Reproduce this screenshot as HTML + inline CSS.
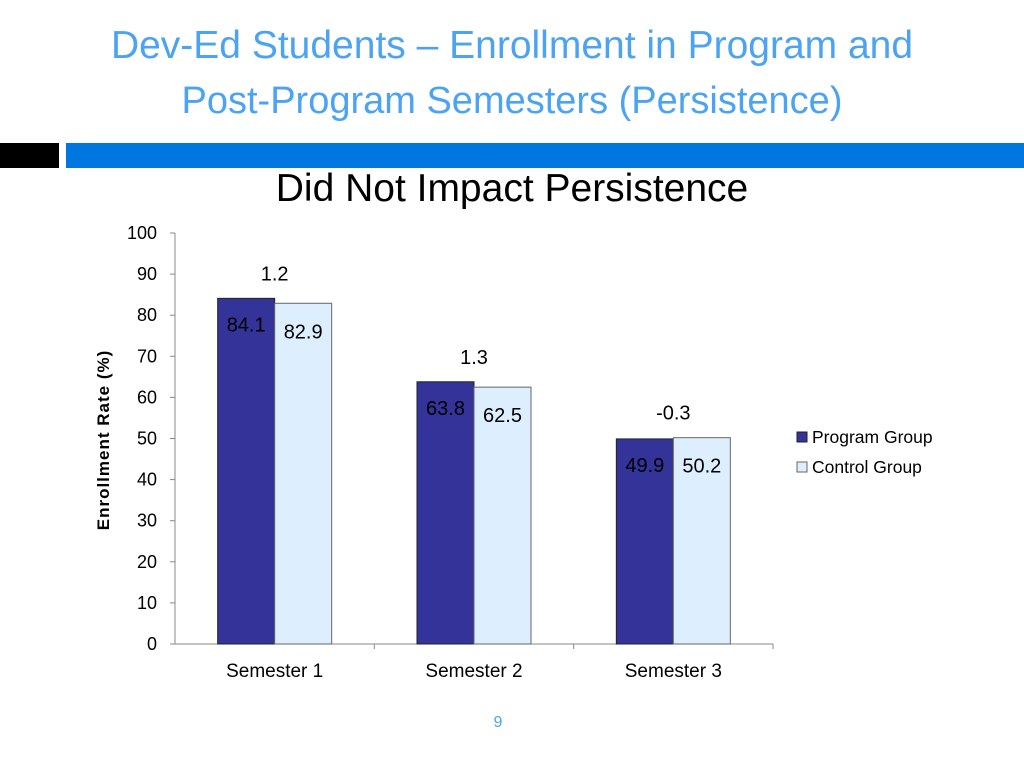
<!DOCTYPE html>
<html><head><meta charset="utf-8"><style>
body{margin:0;width:1024px;height:768px;background:#fff;overflow:hidden;font-family:"Liberation Sans",sans-serif;position:relative}
.t{position:absolute;left:0;width:1024px;text-align:center;color:#4ba3f2;font-size:38px}
</style></head><body>
<div class="t" style="top:24px;font-size:39px">Dev-Ed Students – Enrollment in Program and</div>
<div class="t" style="top:80px">Post-Program Semesters (Persistence)</div>
<div style="position:absolute;left:0;top:143px;width:59px;height:25px;background:#000"></div>
<div style="position:absolute;left:66px;top:143px;width:958px;height:25px;background:#0077e0"></div>
<svg id="c" width="1024" height="768" style="position:absolute;left:0;top:0"></svg>
<script>
const categories=["Semester 1","Semester 2","Semester 3"];
const programVals=[84.1,63.8,49.9];
const controlVals=[82.9,62.5,50.2];
const diffLabels=["1.2","1.3","-0.3"];
const yTicks=[0,10,20,30,40,50,60,70,80,90,100];
const NS="http://www.w3.org/2000/svg",svg=document.getElementById('c');
const x0=175,x1=773,yB=644,yT=233;
const y=v=>yB-(v/100)*(yB-yT);
const cw=(x1-x0)/categories.length,cx=i=>x0+cw*(i+0.5),bw=57;
function el(t,a,txt){const e=document.createElementNS(NS,t);for(const k in a)e.setAttribute(k,a[k]);if(txt!==undefined)e.textContent=txt;svg.appendChild(e);return e;}
let e=el('text',{x:512,y:201,'text-anchor':'middle','font-size':39,fill:'#000'},'Did Not Impact Persistence');

e=el('line',{x1:x0,y1:yT,x2:x0,y2:yB,stroke:'#888'});

e=el('line',{x1:x0,y1:yB,x2:x1,y2:yB,stroke:'#888'});

yTicks.forEach(v=>{
 el('line',{x1:x0-5,y1:y(v),x2:x0,y2:y(v),stroke:'#888'});
 e=el('text',{x:157,y:y(v)+6,'text-anchor':'end','font-size':18,fill:'#000'},v);
 
});
categories.forEach((c,i)=>{
 el('line',{x1:x0+cw*(i+1),y1:yB,x2:x0+cw*(i+1),y2:yB+5,stroke:'#888'});
 e=el('text',{x:cx(i),y:677,'text-anchor':'middle','font-size':19,fill:'#000'},c);
 
 const p=programVals[i],q=controlVals[i];
 e=el('rect',{x:cx(i)-bw,y:y(p),width:bw,height:yB-y(p),fill:'#333399',stroke:'#222'});
 
 e=el('rect',{x:cx(i),y:y(q),width:bw,height:yB-y(q),fill:'#ddeeff',stroke:'#666'});
 
 e=el('text',{x:cx(i)-bw/2,y:y(p)+33,'text-anchor':'middle','font-size':20,fill:'#000'},p.toFixed(1));
 
 e=el('text',{x:cx(i)+bw/2,y:y(q)+35,'text-anchor':'middle','font-size':20,fill:'#000'},q.toFixed(1));
 
 e=el('text',{x:cx(i),y:y(Math.max(p,q))-18,'text-anchor':'middle','font-size':20,fill:'#000'},diffLabels[i]);
 
});
e=el('text',{x:0,y:0,transform:'translate(109,440) rotate(-90)','text-anchor':'middle','font-size':17,'font-weight':'bold','letter-spacing':'1',fill:'#000'},'Enrollment Rate (%)');

e=el('rect',{x:797,y:432,width:10,height:10,fill:'#333399',stroke:'#222'});

e=el('text',{x:812,y:443,'font-size':17.5,fill:'#000'},'Program Group');

e=el('rect',{x:797,y:462,width:10,height:10,fill:'#ddeeff',stroke:'#666'});

e=el('text',{x:812,y:473,'font-size':17.5,fill:'#000'},'Control Group');

e=el('text',{x:498,y:727,'text-anchor':'middle','font-size':16,fill:'#4ba3f2'},'9');

</script>
</body></html>
